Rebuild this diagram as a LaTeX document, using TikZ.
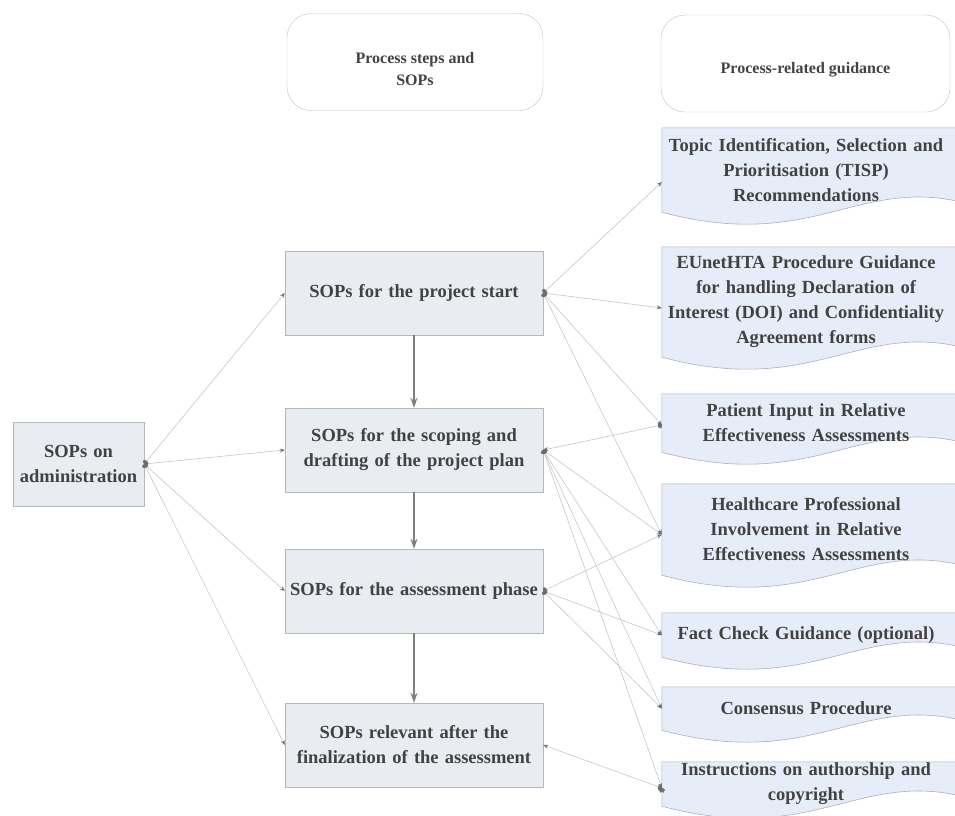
\documentclass[tikz,border=0pt]{standalone}
\usepackage{fontspec}
\setmainfont{Liberation Serif}
\usetikzlibrary{arrows.meta, backgrounds, calc}
\definecolor{boxfill}{HTML}{E9ECF0}
\definecolor{boxline}{HTML}{B4B8BC}
\definecolor{docfill}{HTML}{E7EDF8}
\definecolor{docline}{HTML}{AAB0BC}
\definecolor{headline}{HTML}{BEBEBE}
\definecolor{linkgray}{HTML}{C6C6C6}
\definecolor{tipgray}{HTML}{6E6E6E}
\definecolor{flowgray}{HTML}{808080}
\definecolor{textgray}{HTML}{424242}
\newcommand{\docoutline}[1]{%
    \path[guidefill] (#1.north west) -- ([xshift=12pt]#1.north east)
        -- ([xshift=12pt,yshift=10pt]#1.south east)
        .. controls ($(#1.south west)+(195,-35)$) and ($(#1.south west)+(150,40)$) .. (#1.south west)
        -- cycle;}
\tikzset{
    >=Stealth,
    every node/.style={
        text=textgray,
        font=\bfseries\fontsize{18.5}{25}\selectfont
    },
    head/.style={
        draw=headline,
        rounded corners=24pt,
        minimum height=97pt,
        align=center,
        font=\bfseries\fontsize{16}{22}\selectfont
    },
    sop/.style={
        draw=boxline,
        fill=boxfill,
        minimum width=258pt,
        minimum height=84pt,
        text width=250pt,
        inner sep=0pt,
        align=center
    },
    guide/.style={
        minimum width=288pt,
        text width=284pt,
        inner xsep=2pt,
        inner ysep=0pt,
        align=center
    },
    guidefill/.style={fill=docfill, draw=docline, line width=0.6pt},
    link/.style={
        draw=linkgray,
        line width=0.6pt,
        {Circle[length=4pt,width=6pt,color=tipgray]}-{Stealth[length=5pt,width=4pt,color=tipgray]}
    },
    flow/.style={draw=flowgray, line width=1.4pt, -{Stealth[length=10pt,width=7pt]}},
}

\begin{document}
\begin{tikzpicture}[x=1pt, y=-1pt]
    \useasboundingbox (0,0) rectangle (955,815);

    % column headers
    \node[head, minimum width=256pt, text height=47pt] (hsteps) at (415,62)     {Process steps and\\SOPs};
    \node[head, minimum width=289pt, text height=23pt] (hguide) at (805.5,63.5) {Process-related guidance};

    % process steps
    \node[sop, minimum width=131pt, text width=125pt] (admin) at (78.5,464) {SOPs on\\administration};
    \node[sop] (start)   at (414,293) {SOPs for the project start};
    \node[sop] (scoping) at (414,450) {SOPs for the scoping and\\drafting of the project plan};
    \node[sop] (assess)  at (414,591) {SOPs for the assessment phase};
    \node[sop] (final)   at (414,745) {SOPs relevant after the\\finalization of the assessment};

    % guidance documents
    \node[guide, minimum height=84pt]  (tisp) at (806,170)   {Topic Identification, Selection and\\Prioritisation (TISP)\\Recommendations};
    \node[guide, minimum height=110pt] (doi)  at (806,302)   {EUnetHTA Procedure Guidance\\for handling Declaration of\\Interest (DOI) and Confidentiality\\Agreement forms};
    \node[guide, minimum height=58pt]  (pat)  at (806,423)   {Patient Input in Relative\\Effectiveness Assessments};
    \node[guide, minimum height=91pt]  (hcp)  at (806,529.5) {Healthcare Professional\\Involvement in Relative\\Effectiveness Assessments};
    \node[guide, minimum height=44pt]  (fact) at (806,635)   {Fact Check Guidance (optional)};
    \node[guide, minimum height=43pt]  (cons) at (806,708.5) {Consensus Procedure};
    \node[guide, minimum height=44pt]  (auth) at (806,784)   {Instructions on authorship and\\copyright};

    \begin{pgfonlayer}{background}
        \foreach \g in {tisp,doi,pat,hcp,fact,cons,auth}
            \docoutline{\g};
    \end{pgfonlayer}

    % main flow
    \path[flow] (start) edge (scoping)
                (scoping) edge (assess)
                (assess) edge (final);

    % links to guidance
    \path[link] (admin.east) edge (start.west)
                (admin.east) edge (scoping.west)
                (admin.east) edge (assess.west)
                (admin.east) edge (final.west)
                (start.east) edge ([yshift=-12pt]tisp.west)
                (start.east) edge ([yshift=-6pt]doi.west)
                (start.east) edge ([yshift=-2pt]pat.west)
                (start.east) edge ([yshift=-5pt]hcp.west)
                (scoping.east) edge ([yshift=-5pt]hcp.west)
                (scoping.east) edge (fact.west)
                (scoping.east) edge (cons.west)
                (scoping.east) edge ([yshift=-4pt]auth.west)
                (assess.east) edge ([yshift=-5pt]hcp.west)
                (assess.east) edge (fact.west)
                (assess.east) edge (cons.west)
                ([yshift=-2pt]pat.west) edge (scoping.east)
                ([yshift=-4pt]auth.west) edge (final.east);
\end{tikzpicture}
\end{document}
